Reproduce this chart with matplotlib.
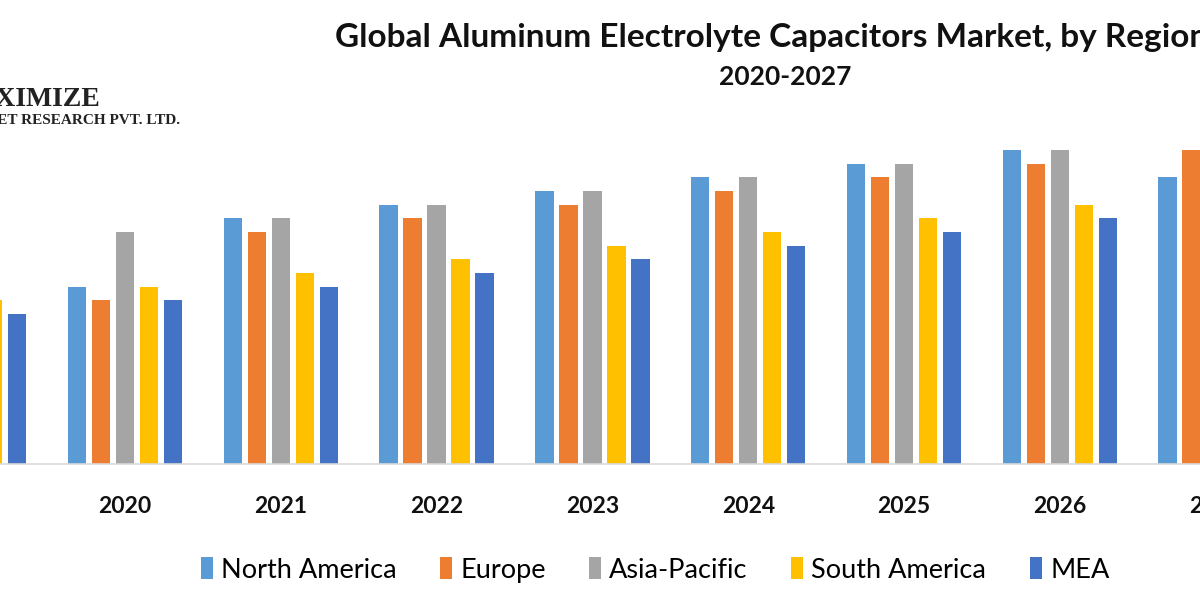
import numpy as np
import matplotlib.pyplot as plt

# Datos (nan = fuera de la imagen)
anios = ['2019', '2020', '2021', '2022', '2023', '2024', '2025', '2026', '2027']
regiones = ['North America', 'Europe', 'Asia-Pacific', 'South America', 'MEA']
north_america = [np.nan, 13, 18, 19, 20, 21, 22, 23, 21]
europe = [np.nan, 12, 17, 18, 19, 20, 21, 22, 23]
asia_pacific = [np.nan, 17, 18, 19, 20, 21, 22, 23, np.nan]
south_america = [12, 13, 14, 15, 16, 17, 18, 19, np.nan]
mea = [11, 12, 13, 14, 15, 16, 17, 18, np.nan]
colores = ['#5B9BD5', '#ED7D31', '#A5A5A5', '#FFC000', '#4472C4']

plt.rcParams['font.family'] = ['Lato', 'DejaVu Sans']

fig = plt.figure(figsize=(12, 6), dpi=100)
# el eje sale por los lados: el original es un recorte de un grafico mas ancho
ax = fig.add_axes([-120 / 1200, 136 / 600, 1440 / 1200, 464 / 600])

x = np.arange(len(anios)) - 1  # 2020 en x = 0
series = [north_america, europe, asia_pacific, south_america, mea]
paso = 0.154
ancho = 0.118
for i, (nombre, valores) in enumerate(zip(regiones, series)):
    ax.bar(x + (i - 2) * paso, valores, width=ancho, color=colores[i], label=nombre)

ax.set_xticks(x)
ax.set_xticklabels(anios, fontsize=16.5, fontweight='bold', color='#111111')
# el limite va despues de set_xticks (si no, se expande)
ax.set_xlim((-120 - 125) / 155.8, (1320 - 125) / 155.8)
ax.set_ylim(0, 464 / 13.65)
ax.tick_params(axis='x', length=0, pad=23)
ax.set_yticks([])
for lado in ['top', 'right', 'left']:
    ax.spines[lado].set_visible(False)
ax.spines['bottom'].set_color('#D9D9D9')
ax.spines['bottom'].set_linewidth(1.2)

# Titulo
fig.text(335 / 1200, 1 - 37 / 600, 'Global Aluminum Electrolyte Capacitors Market, by Region',
         ha='left', va='center', fontsize=24, fontweight='bold', color='#111111')
fig.text(785 / 1200, 1 - 77 / 600, '2020-2027', ha='center', va='center',
         fontsize=19, fontweight='bold', color='#111111')

# Logo
fig.text(100 / 1200, 1 - 106 / 600, 'MAXIMIZE', ha='right', va='baseline',
         fontsize=20, fontweight='bold', family='Liberation Serif', color='#222222')
fig.text(180 / 1200, 1 - 124 / 600, 'MARKET RESEARCH PVT. LTD.', ha='right', va='baseline',
         fontsize=11, fontweight='bold', family='Liberation Serif', color='#222222')

fig.legend(loc='center', bbox_to_anchor=(655 / 1200, 1 - 570 / 600), ncol=5, frameon=False,
           fontsize=19.5, handlelength=0.45, handleheight=0.85, handletextpad=0.3,
           columnspacing=1.6)

fig.savefig('out.png', dpi=100)
